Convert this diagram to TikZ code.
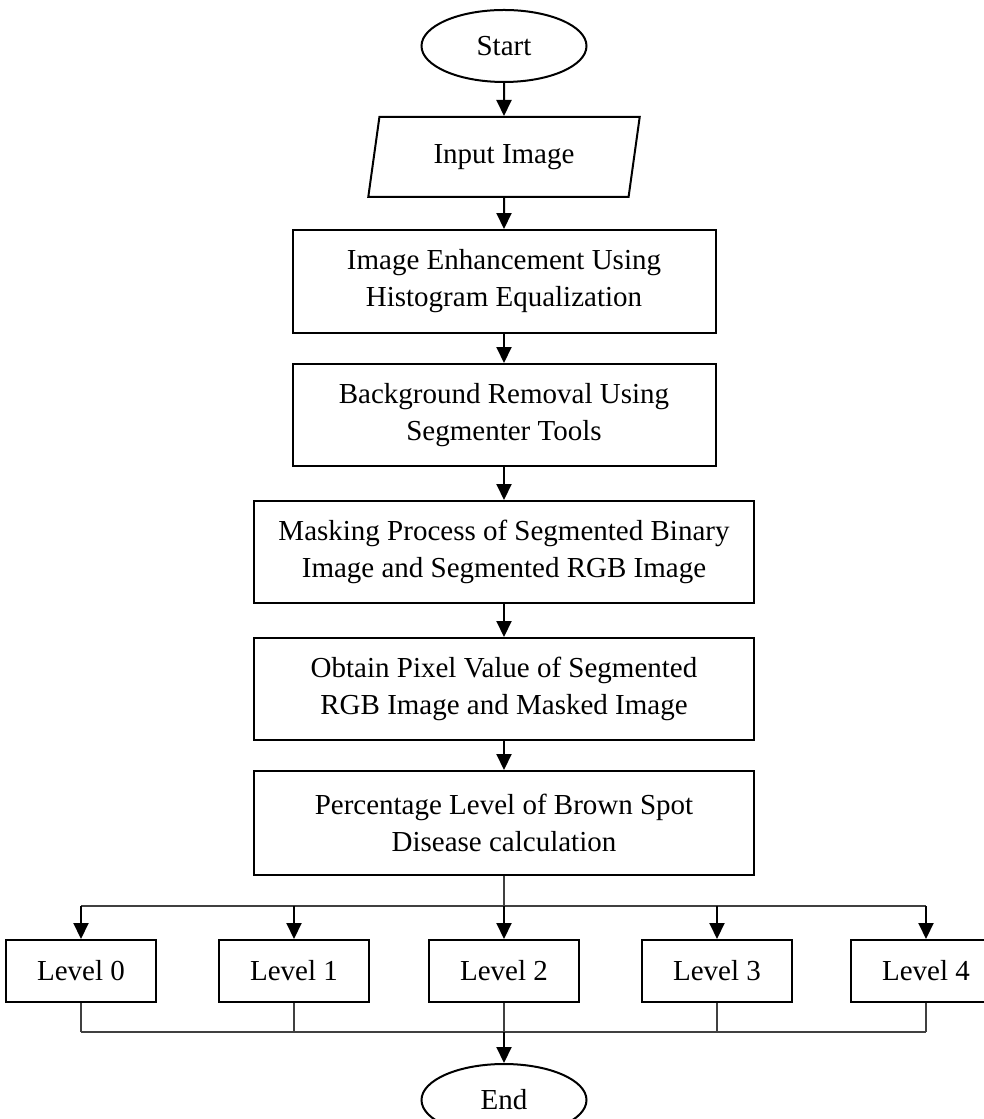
\documentclass[tikz,border=0pt]{standalone}
\usepackage{fontspec}
\setmainfont{Liberation Serif}
\usetikzlibrary{arrows.meta,positioning,shapes.geometric}

\begin{document}
\begin{tikzpicture}[auto,node distance=31pt,x=1pt,y=1pt,
  every node/.style={font=\fontsize{29}{37}\selectfont},
  term node/.style={ellipse,draw,line width=2pt,minimum width=165pt,minimum height=72pt,inner sep=0pt},
  io node/.style={trapezium,trapezium left angle=76,trapezium right angle=104,trapezium stretches=true,draw,line width=2pt,minimum width=272pt,minimum height=80pt,inner sep=0pt},
  main node/.style={rectangle,draw,line width=2pt,minimum width=423pt,minimum height=103pt,align=center,inner sep=0pt},
  wide node/.style={main node,minimum width=500pt},
  level node/.style={rectangle,draw,line width=2pt,minimum width=150pt,minimum height=62pt,inner sep=0pt},
  flow/.style={line width=2pt,-{Triangle[length=16pt,width=15pt]}},
  link/.style={line width=1.2pt,black!75}]
  \useasboundingbox (0,0) rectangle (984,1119);

  \node[term node] (1) at (504,1073) {Start};
  \node[io node] (2) [below=33pt of 1] {Input Image};
  \node[main node] (3) [below=31pt of 2] {Image Enhancement Using\\Histogram Equalization};
  \node[main node,minimum height=102pt] (4) [below=29pt of 3] {Background Removal Using\\Segmenter Tools};
  \node[wide node,minimum height=102pt] (5) [below=33pt of 4] {Masking Process of Segmented Binary\\Image and Segmented RGB Image};
  \node[wide node,minimum height=102pt] (6) [below=33pt of 5] {Obtain Pixel Value of Segmented\\RGB Image and Masked Image};
  \node[wide node,minimum height=104pt] (7) [below=29pt of 6] {Percentage Level of Brown Spot\\Disease calculation};
  \coordinate[below=30pt of 7] (s);
  \node[level node] (10) [below=33pt of s] {Level 2};
  \node[level node] (9) [left=58pt of 10] {Level 1};
  \node[level node] (8) [left=61pt of 9] {Level 0};
  \node[level node] (11) [right=61pt of 10] {Level 3};
  \node[level node] (12) [right=57pt of 11] {Level 4};
  \coordinate[below=29pt of 10] (j);
  \node[term node] (13) [below=31pt of j] {End};

  \path[flow]
    (1) edge (2)
    (2) edge (3)
    (3) edge (4)
    (4) edge (5)
    (5) edge (6)
    (6) edge (7);

  % split to the five levels
  \draw[link] (7) -- (s);
  \draw[link] (s -| 8) -- (s -| 12);
  \path[flow]
    (s -| 8) edge (8)
    (s -| 9) edge (9)
    (s) edge (10)
    (s -| 11) edge (11)
    (s -| 12) edge (12);

  % join back to the end
  \draw[link] (8) -- (j -| 8) (9) -- (j -| 9) (10) -- (j) (11) -- (j -| 11) (12) -- (j -| 12);
  \draw[link] (j -| 8) -- (j -| 12);
  \draw[flow] (j) -- (13);
\end{tikzpicture}
\end{document}
